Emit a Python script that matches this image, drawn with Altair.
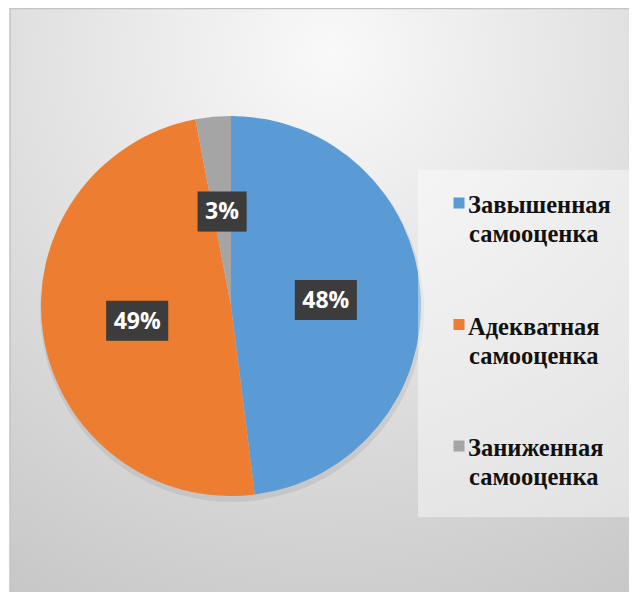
import altair as alt
import pandas as pd

categories = ["Завышенная самооценка", "Адекватная самооценка", "Заниженная самооценка"]
shares = [48, 49, 3]
labels = ["48%", "49%", "3%"]
colors = ["#5B9BD5", "#ED7D31", "#A5A5A5"]
order_idx = [0, 1, 2]

df = pd.DataFrame({"category": categories, "share": shares, "label": labels, "idx": order_idx})
one = pd.DataFrame({"k": [0]})

W, H = 621, 584
CX, CY, R = 223, 298, 190
LR = 95

color = alt.Color("category:N", scale=alt.Scale(domain=categories, range=colors), legend=None)

bg = alt.Chart(one).mark_rect(
    fill=alt.Gradient(
        gradient="radial", x1=0.5, y1=0.1, r1=0, x2=0.5, y2=0.1, r2=1.0,
        stops=[alt.GradientStop(color="#f9f9f9", offset=0),
               alt.GradientStop(color="#c6c6c6", offset=1)]),
    stroke="#c4c4c4", strokeWidth=1.5,
).encode(x=alt.value(2), x2=alt.value(W + 20), y=alt.value(0.5), y2=alt.value(H + 20))

base = alt.Chart(df)

pie_shadow = base.mark_arc(outerRadius=R + 2, color="black", opacity=0.07).encode(
    theta=alt.Theta("share:Q", stack=True),
    order=alt.Order("idx:Q"),
    x=alt.value(CX + 1), y=alt.value(CY + 4),
)

pie = base.mark_arc(outerRadius=R).encode(
    theta=alt.Theta("share:Q", stack=True),
    color=color,
    order=alt.Order("idx:Q"),
    x=alt.value(CX), y=alt.value(CY),
)

lab = base.transform_window(
    cum="sum(share)", sort=[alt.SortField("idx")], frame=[None, 0]
).transform_joinaggregate(total="sum(share)").transform_calculate(
    mid="(datum.cum - datum.share/2) / datum.total * 2 * PI"
).transform_calculate(
    px=f"{CX} + {LR}*sin(datum.mid)",
    py=f"{CY} - {LR}*cos(datum.mid)",
    bw="23 + 13*length(datum.label)",
).transform_calculate(
    bx1="datum.px - datum.bw/2", bx2="datum.px + datum.bw/2",
    by1="datum.py - 20", by2="datum.py + 20",
)

box_enc = dict(
    x=alt.X("bx1:Q", scale=None), x2="bx2:Q",
    y=alt.Y("by1:Q", scale=None), y2="by2:Q",
)
shadow = lab.mark_rect(fill="black", opacity=0.28, xOffset=3, yOffset=3).encode(**box_enc)
boxes = lab.mark_rect(fill="#3c3c3c").encode(**box_enc)
texts = lab.mark_text(
    color="white", font="Open Sans", fontWeight="bold", fontSize=23,
    align="center", baseline="middle", dy=1,
).encode(x=alt.X("px:Q", scale=None), y=alt.Y("py:Q", scale=None), text="label:N")

leg_box = alt.Chart(one).mark_rect(fill="white", fillOpacity=0.42).encode(
    x=alt.value(410), x2=alt.value(622), y=alt.value(162), y2=alt.value(509)
)

leg = base.transform_calculate(
    ly="195 + datum.idx*121.5",
    line1="split(datum.category, ' ')[0]",
    line2="split(datum.category, ' ')[1]",
)
squares = leg.mark_square(size=121, opacity=1).encode(
    x=alt.value(451), y=alt.Y("ly:Q", scale=None), color=color
)
leg_style = dict(align="left", baseline="alphabetic", font="Liberation Serif",
                 fontWeight="bold", fontSize=24.5, color="#111111")
leg_text1 = leg.mark_text(dy=10, **leg_style).encode(
    x=alt.value(460), y=alt.Y("ly:Q", scale=None), text="line1:N")
leg_text2 = leg.mark_text(dy=39, **leg_style).encode(
    x=alt.value(461), y=alt.Y("ly:Q", scale=None), text="line2:N")

chart = alt.layer(
    bg, pie_shadow, pie, shadow, boxes, texts, leg_box, squares, leg_text1, leg_text2
).properties(
    width=W, height=H, padding=0, autosize=alt.AutoSizeParams(type="none")
).configure_view(stroke=None)

chart.save("out.html", embed_options={"renderer": "svg", "actions": False})
